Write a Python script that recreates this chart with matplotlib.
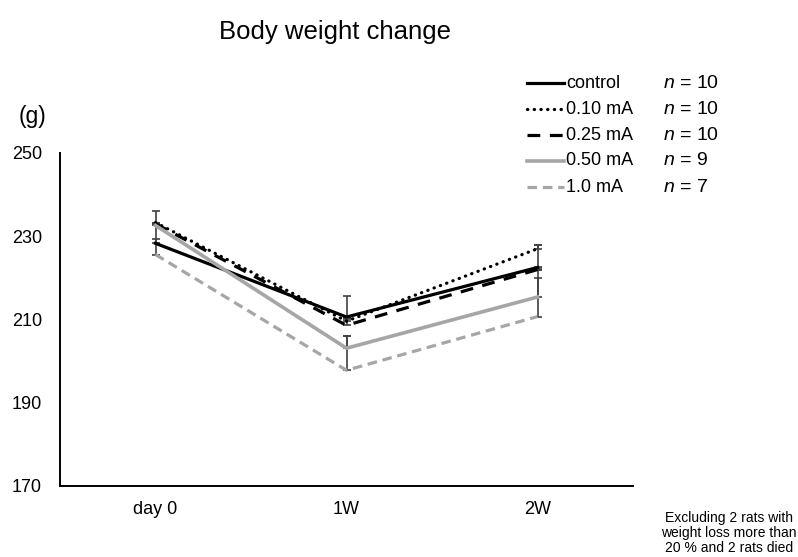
import matplotlib
matplotlib.use("Agg")
import matplotlib.pyplot as plt
from matplotlib.lines import Line2D

plt.rcParams['font.family'] = ['Liberation Sans', 'DejaVu Sans']
plt.rcParams['mathtext.fontset'] = 'custom'
plt.rcParams['mathtext.it'] = 'Liberation Sans:italic'
plt.rcParams['mathtext.rm'] = 'Liberation Sans'

# ---- data ----
timepoints = ["day 0", "1W", "2W"]
series_names = ["control", "0.10 mA", "0.25 mA", "0.50 mA", "1.0 mA"]
n_labels = ["10", "10", "10", "9", "7"]
control = [228.3, 210.6, 222.5]
ma010 = [233.3, 209.6, 227.0]
ma025 = [233.0, 208.6, 222.0]
ma050 = [232.6, 203.1, 215.4]
ma10 = [225.6, 197.8, 210.7]
err_control = [4.6, 5.1, 5.4]
err_ma010 = [2.8, 0.8, 0.9]
err_ma025 = [0.3, 1.5, 0.3]
err_ma050 = [0.5, 3.0, 4.5]
err_ma10 = [3.7, 8.3, 11.2]
y_ticks = [170, 190, 210, 230, 250]

values = [control, ma010, ma025, ma050, ma10]
errors = [err_control, err_ma010, err_ma025, err_ma050, err_ma10]

black = "#000000"
gray = "#A6A6A6"
styles = [
    dict(color=black, lw=2.3, ls="-"),
    dict(color=black, lw=2.3, dashes=(0.1, 2.0), dash_capstyle="round"),
    dict(color=black, lw=2.3, dashes=(4, 3)),
    dict(color=gray, lw=2.6, ls="-"),
    dict(color=gray, lw=2.3, dashes=(3, 1.8)),
]

W, H = 798, 557
fig = plt.figure(figsize=(W / 100, H / 100), dpi=100)
ax = fig.add_axes([60 / W, 1 - 486 / H, (633 - 60) / W, (486 - 153) / H])

x = [i + 0.5 for i in range(len(timepoints))]

for v, e in zip(values, errors):
    ax.errorbar(x, v, yerr=[[0] * len(e), e], fmt="none", ecolor="#404040",
                elinewidth=1.2, capsize=3.0, capthick=1.2, zorder=1)

for v, st in zip(values, styles):
    ax.plot(x, v, zorder=3, **st)

ax.set_xlim(0, 3)
ax.set_ylim(170, 250)
ax.set_yticks(y_ticks)
ax.set_xticks(x)
ax.set_xticklabels(timepoints)
ax.tick_params(axis="both", length=0, labelsize=13)
ax.tick_params(axis="y", pad=13)
ax.tick_params(axis="x", pad=11)
for s in ["top", "right"]:
    ax.spines[s].set_visible(False)
for s in ["left", "bottom"]:
    ax.spines[s].set_linewidth(1.4)
    ax.spines[s].set_color("black")

# title and unit
fig.text(335 / W, 1 - 32 / H, "Body weight change", ha="center", va="center", fontsize=18.5)
fig.text(32 / W, 1 - 117 / H, "(g)", ha="center", va="center", fontsize=16.5)

# manual legend
row_y = [83, 109, 135, 161, 187]
for name, n, st, yy in zip(series_names, n_labels, styles, row_y):
    ln = Line2D([527 / W, 564 / W], [1 - yy / H, 1 - yy / H], transform=fig.transFigure, **st)
    fig.add_artist(ln)
    fig.text(566 / W, 1 - yy / H, name, ha="left", va="center", fontsize=13)
    fig.text(663 / W, 1 - yy / H, r"$n$ = " + n, ha="left", va="center", fontsize=14)

fig.text(729 / W, 1 - 533 / H, "Excluding 2 rats with\nweight loss more than\n20 % and 2 rats died",
         ha="center", va="center", fontsize=10, linespacing=1.1)

fig.savefig("out.png", dpi=100)
